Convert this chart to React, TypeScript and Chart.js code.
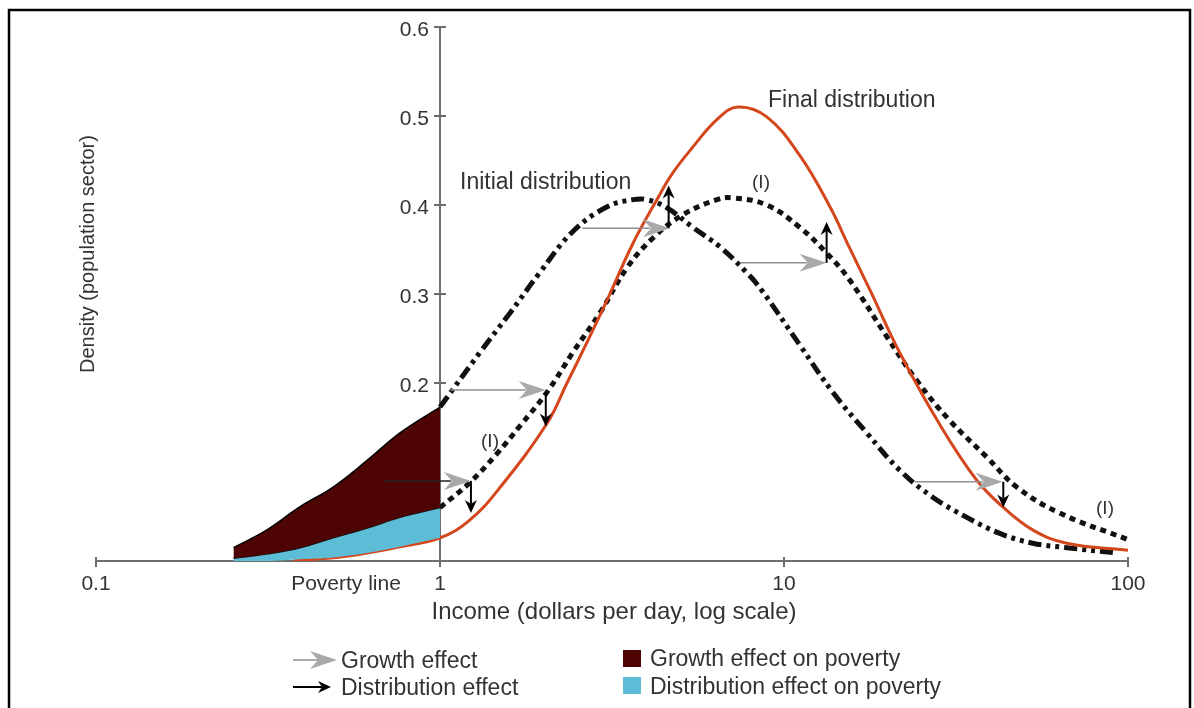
import React, { useEffect, useRef } from "react";
import { Chart, registerables } from "chart.js";

Chart.register(...registerables);

// ---------- data ----------
// income in dollars per day (log axis), density on the y axis
const initialIncome = [1, 1.31, 1.6, 1.95, 2.43, 3.06, 3.64, 3.99, 4.56, 5.43, 6.51, 7.79, 8.62, 11.1, 13.9, 17.4, 21.7, 27.0, 34.0, 42.4, 52.8, 66.3, 92.7];
const initialDensity = [0.173, 0.235, 0.279, 0.324, 0.37, 0.398, 0.406, 0.406, 0.397, 0.375, 0.353, 0.324, 0.304, 0.243, 0.189, 0.144, 0.102, 0.072, 0.049, 0.031, 0.02, 0.015, 0.009];

const intermediateIncome = [1, 1.22, 1.46, 1.71, 2.05, 2.43, 2.92, 3.49, 4.16, 5.08, 6.38, 7.1, 8.91, 11.1, 13.3, 15.5, 19.9, 24.3, 30.3, 38.8, 47.5, 63.2, 100];
const intermediateDensity = [0.06, 0.088, 0.12, 0.152, 0.19, 0.234, 0.279, 0.329, 0.363, 0.389, 0.406, 0.408, 0.4, 0.375, 0.346, 0.316, 0.252, 0.203, 0.158, 0.117, 0.083, 0.054, 0.024];

const finalIncome = [0.374, 0.548, 0.765, 1, 1.22, 1.49, 2.05, 2.34, 2.67, 3.06, 3.64, 4.27, 4.75, 5.43, 6.38, 7.34, 8.91, 11.1, 13.6, 15.5, 17.8, 21.7, 28.4, 36.3, 43.2, 52.8, 66.3, 100];
const finalDensity = [0, 0.006, 0.016, 0.026, 0.046, 0.082, 0.155, 0.2, 0.245, 0.293, 0.357, 0.406, 0.436, 0.465, 0.496, 0.51, 0.499, 0.456, 0.398, 0.352, 0.304, 0.234, 0.153, 0.091, 0.061, 0.035, 0.02, 0.012];

// below the poverty line (income <= 1)
const poorIncome = [0.251, 0.314, 0.392, 0.489, 0.614, 0.765, 1];
const poorInitial = [0.015, 0.035, 0.061, 0.083, 0.113, 0.144, 0.173];
const poorIntermediate = [0.003, 0.008, 0.015, 0.026, 0.037, 0.049, 0.06];
const poorFinal = [0, 0, 0.002, 0.004, 0.009, 0.016, 0.026];

// growth effect arrows (horizontal): level, from income, to income
const growthLevel = [0.192, 0.09, 0.374, 0.335, 0.089];
const growthFrom = [1.07, 0.69, 2.59, 7.44, 24.0];
const growthTo = [2.03, 1.23, 4.66, 13.3, 43.2];

// distribution effect arrows (vertical): income, from density, to density
const distIncome = [2.03, 1.23, 4.62, 13.3, 43.4];
const distFrom = [0.19, 0.09, 0.374, 0.335, 0.089];
const distTo = [0.151, 0.054, 0.422, 0.381, 0.06];

const xTickValues = [0.1, 1, 10, 100];
const xTickLabels = ["0.1", "1", "10", "100"];
const yTickValues = [0.2, 0.3, 0.4, 0.5, 0.6];
const yTickLabels = ["0.2", "0.3", "0.4", "0.5", "0.6"];

const povertyLine = 1;
const xTitle = "Income (dollars per day, log scale)";
const yTitle = "Density (population sector)";
const legendItems = ["Growth effect", "Distribution effect", "Growth effect on poverty", "Distribution effect on poverty"];

// ---------- styles ----------
const FONT = '"Liberation Sans", Arial, "DejaVu Sans", sans-serif';
const TEXT = "#333333";
const AXIS = "#6e6e6e";
const ORANGE = "#d4471d";
const MAROON = "#4f0404";
const CYAN = "#5dbcd6";
const GRAY_HEAD = "#a9a9a9";
const GRAY_LINE = "#8f8f8f";

function pts(xs: number[], ys: number[]) {
  return xs.map((x, i) => ({ x, y: ys[i] }));
}

function grayHead(ctx: CanvasRenderingContext2D, tx: number, ty: number) {
  ctx.beginPath();
  ctx.moveTo(tx, ty);
  ctx.lineTo(tx - 27, ty - 9);
  ctx.lineTo(tx - 19, ty);
  ctx.lineTo(tx - 27, ty + 9);
  ctx.closePath();
  ctx.fillStyle = GRAY_HEAD;
  ctx.fill();
}

function blackHeadV(ctx: CanvasRenderingContext2D, tx: number, ty: number, dir: number) {
  ctx.beginPath();
  ctx.moveTo(tx, ty);
  ctx.lineTo(tx - 6, ty - dir * 13);
  ctx.lineTo(tx, ty - dir * 9);
  ctx.lineTo(tx + 6, ty - dir * 13);
  ctx.closePath();
  ctx.fillStyle = "#000";
  ctx.fill();
}

function blackHeadH(ctx: CanvasRenderingContext2D, tx: number, ty: number) {
  ctx.beginPath();
  ctx.moveTo(tx, ty);
  ctx.lineTo(tx - 13, ty - 6);
  ctx.lineTo(tx - 9, ty);
  ctx.lineTo(tx - 13, ty + 6);
  ctx.closePath();
  ctx.fillStyle = "#000";
  ctx.fill();
}

const overlay = {
  id: "overlay",
  beforeDraw(chart: any) {
    const { ctx, width, height } = chart;
    ctx.save();
    ctx.fillStyle = "#fff";
    ctx.fillRect(0, 0, width, height);
    ctx.strokeStyle = "#000";
    ctx.lineWidth = 2.5;
    ctx.strokeRect(9, 10, 1181, height + 20);
    ctx.restore();
  },
  beforeDatasetsDraw(chart: any) {
    const { ctx } = chart;
    const x = chart.scales.x;
    const y = chart.scales.y;
    ctx.save();
    ctx.strokeStyle = AXIS;
    ctx.lineWidth = 2;
    const y0 = y.getPixelForValue(0);
    const xa = x.getPixelForValue(povertyLine);
    ctx.beginPath();
    ctx.moveTo(x.getPixelForValue(xTickValues[0]), y0);
    ctx.lineTo(x.getPixelForValue(xTickValues[xTickValues.length - 1]), y0);
    ctx.stroke();
    xTickValues.forEach((v) => {
      const px = x.getPixelForValue(v);
      ctx.beginPath();
      ctx.moveTo(px, y0 - 4);
      ctx.lineTo(px, y0 + 6);
      ctx.stroke();
    });
    const yTop = y.getPixelForValue(yTickValues[yTickValues.length - 1]);
    ctx.beginPath();
    ctx.moveTo(xa, y0 + 6);
    ctx.lineTo(xa, yTop);
    ctx.stroke();
    yTickValues.forEach((v) => {
      const py = y.getPixelForValue(v);
      ctx.beginPath();
      ctx.moveTo(xa - 6, py);
      ctx.lineTo(xa + 6, py);
      ctx.stroke();
    });
    ctx.restore();
  },
  afterDatasetsDraw(chart: any) {
    const { ctx } = chart;
    const x = chart.scales.x;
    const y = chart.scales.y;
    ctx.save();

    growthLevel.forEach((lv, i) => {
      const py = y.getPixelForValue(lv);
      const x1 = x.getPixelForValue(growthFrom[i]);
      const x2 = x.getPixelForValue(growthTo[i]);
      ctx.strokeStyle = i === 1 ? "#222" : GRAY_LINE;
      ctx.lineWidth = 1.5;
      ctx.beginPath();
      ctx.moveTo(x1, py);
      ctx.lineTo(x2 - 20, py);
      ctx.stroke();
      grayHead(ctx, x2, py);
    });
    distIncome.forEach((inc, i) => {
      const px = x.getPixelForValue(inc);
      const p1 = y.getPixelForValue(distFrom[i]);
      const p2 = y.getPixelForValue(distTo[i]);
      const dir = p2 > p1 ? 1 : -1;
      ctx.strokeStyle = "#000";
      ctx.lineWidth = 2;
      ctx.beginPath();
      ctx.moveTo(px, p1);
      ctx.lineTo(px, p2 - dir * 9);
      ctx.stroke();
      blackHeadV(ctx, px, p2, dir);
    });

    ctx.fillStyle = TEXT;
    ctx.font = `21px ${FONT}`;
    ctx.textBaseline = "middle";
    ctx.textAlign = "center";
    const y0 = y.getPixelForValue(0);
    xTickValues.forEach((v, i) => {
      ctx.fillText(xTickLabels[i], x.getPixelForValue(v), y0 + 23);
    });
    ctx.fillText("Poverty line", 346, y0 + 23);
    ctx.textAlign = "right";
    const xa = x.getPixelForValue(povertyLine);
    yTickValues.forEach((v, i) => {
      ctx.fillText(yTickLabels[i], xa - 11, y.getPixelForValue(v) + 3);
    });

    ctx.textAlign = "center";
    ctx.font = `24px ${FONT}`;
    ctx.fillText(xTitle, 614, y0 + 51);
    ctx.save();
    ctx.translate(88, 254);
    ctx.rotate(-Math.PI / 2);
    ctx.font = `20px ${FONT}`;
    ctx.fillText(yTitle, 0, 0);
    ctx.restore();

    ctx.textAlign = "left";
    ctx.font = `23px ${FONT}`;
    ctx.fillText("Initial distribution", 460, 183);
    ctx.fillText("Final distribution", 768, 101);
    ctx.textAlign = "center";
    ctx.font = `19px ${FONT}`;
    ctx.fillText("(I)", 761, 183);
    ctx.fillText("(I)", 490, 442);
    ctx.fillText("(I)", 1105, 509);

    ctx.font = `23px ${FONT}`;
    ctx.textAlign = "left";
    ctx.strokeStyle = GRAY_LINE;
    ctx.lineWidth = 1.5;
    ctx.beginPath();
    ctx.moveTo(293, 660);
    ctx.lineTo(318, 660);
    ctx.stroke();
    grayHead(ctx, 337, 660);
    ctx.fillStyle = TEXT;
    ctx.fillText(legendItems[0], 341, 662);

    ctx.strokeStyle = "#000";
    ctx.lineWidth = 2;
    ctx.beginPath();
    ctx.moveTo(293, 687);
    ctx.lineTo(324, 687);
    ctx.stroke();
    blackHeadH(ctx, 331, 687);
    ctx.fillStyle = TEXT;
    ctx.fillText(legendItems[1], 341, 689);

    ctx.fillStyle = MAROON;
    ctx.fillRect(623, 650, 18, 17);
    ctx.fillStyle = CYAN;
    ctx.fillRect(623, 677, 18, 17);
    ctx.fillStyle = TEXT;
    ctx.fillText(legendItems[2], 650, 660);
    ctx.fillText(legendItems[3], 650, 688);

    ctx.restore();
  },
};

export default function App() {
  const ref = useRef<HTMLCanvasElement | null>(null);

  useEffect(() => {
    if (!ref.current) return;
    const chart = new Chart(ref.current, {
      type: "line",
      data: {
        datasets: [
          {
            label: "poor-initial",
            data: pts(poorIncome, poorInitial),
            borderColor: "#000",
            borderWidth: 1.5,
            backgroundColor: MAROON,
            fill: "+1",
            tension: 0.4,
            pointRadius: 0,
          },
          {
            label: "poor-intermediate",
            data: pts(poorIncome, poorIntermediate),
            borderColor: "#111",
            borderWidth: 1.5,
            backgroundColor: CYAN,
            fill: "+1",
            tension: 0.4,
            pointRadius: 0,
          },
          {
            label: "poor-final",
            data: pts(poorIncome, poorFinal),
            borderColor: "rgba(0,0,0,0)",
            borderWidth: 0,
            fill: false,
            tension: 0.4,
            pointRadius: 0,
          },
          {
            label: "Final distribution",
            data: pts(finalIncome, finalDensity),
            borderColor: ORANGE,
            borderWidth: 3,
            fill: false,
            tension: 0.4,
            pointRadius: 0,
          },
          {
            label: "Intermediate (I)",
            data: pts(intermediateIncome, intermediateDensity),
            borderColor: "#111",
            borderWidth: 5,
            borderDash: [6, 5],
            borderCapStyle: "butt",
            fill: false,
            tension: 0.4,
            pointRadius: 0,
          },
          {
            label: "Initial distribution",
            data: pts(initialIncome, initialDensity),
            borderColor: "#111",
            borderWidth: 5,
            borderDash: [13, 5, 4, 5, 4, 5],
            borderCapStyle: "butt",
            fill: false,
            tension: 0.4,
            pointRadius: 0,
          },
        ],
      },
      options: {
        responsive: false,
        animation: false,
        layout: { padding: { left: 96, right: 66, top: 27, bottom: 147 } },
        scales: {
          x: { type: "logarithmic", min: 0.1, max: 100, display: false },
          y: { type: "linear", min: 0, max: 0.6, display: false },
        },
        plugins: {
          legend: { display: false },
          tooltip: { enabled: false },
        },
        events: [],
      },
      plugins: [overlay],
    });
    return () => chart.destroy();
  }, []);

  return (
    <div style={{ position: "absolute", left: 0, top: 0, width: 1194, height: 708, background: "#fff" }}>
      <canvas ref={ref} width={1194} height={708} style={{ display: "block", width: 1194, height: 708 }} />
    </div>
  );
}
